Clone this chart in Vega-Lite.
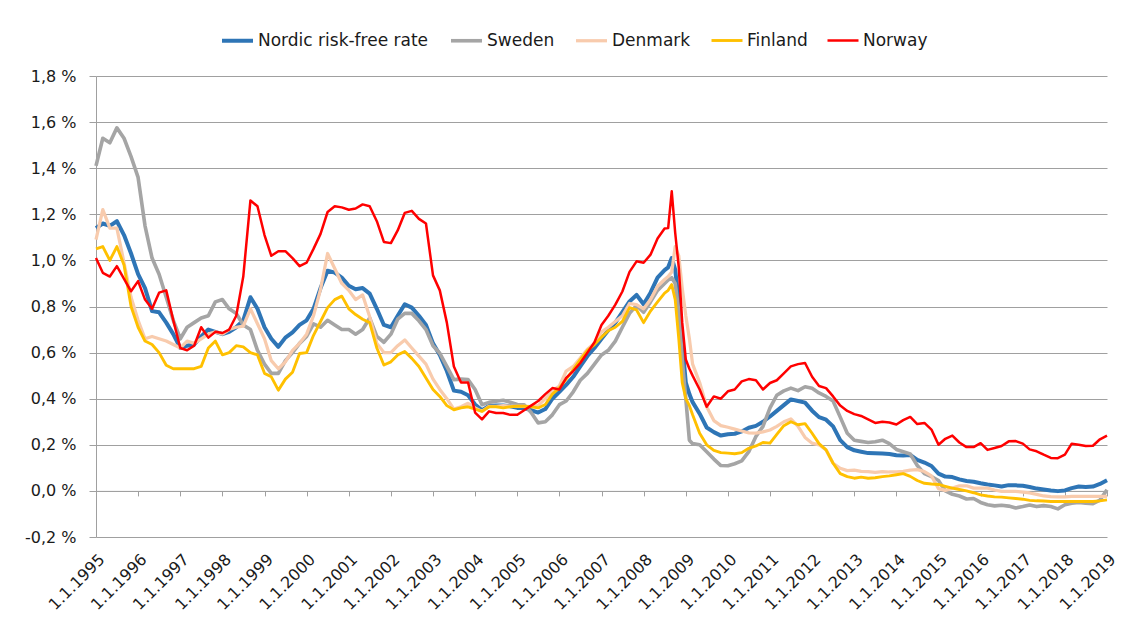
{
"$schema": "https://vega.github.io/schema/vega-lite/v6.json",
"width": 1011, "height": 461,
"autosize": {"type": "none"},
"padding": {"left": 96, "top": 76, "right": 23, "bottom": 85},
"background": "white",
"config": {"font": "DejaVu Sans", "view": {"stroke": null}},
"data": {"values": [
{"date":"1995-01-01","Nordic risk-free rate":1.14,"Sweden":1.41,"Denmark":1.09,"Finland":1.05,"Norway":1.01},
{"date":"1995-03-01","Nordic risk-free rate":1.16,"Sweden":1.53,"Denmark":1.22,"Finland":1.06,"Norway":0.946},
{"date":"1995-05-01","Nordic risk-free rate":1.15,"Sweden":1.51,"Denmark":1.14,"Finland":1.0,"Norway":0.93},
{"date":"1995-07-01","Nordic risk-free rate":1.17,"Sweden":1.575,"Denmark":1.14,"Finland":1.06,"Norway":0.975},
{"date":"1995-09-01","Nordic risk-free rate":1.11,"Sweden":1.53,"Denmark":0.99,"Finland":0.98,"Norway":0.92},
{"date":"1995-11-01","Nordic risk-free rate":1.03,"Sweden":1.45,"Denmark":0.84,"Finland":0.8,"Norway":0.866},
{"date":"1996-01-01","Nordic risk-free rate":0.94,"Sweden":1.36,"Denmark":0.74,"Finland":0.71,"Norway":0.91},
{"date":"1996-03-01","Nordic risk-free rate":0.88,"Sweden":1.15,"Denmark":0.66,"Finland":0.65,"Norway":0.83},
{"date":"1996-05-01","Nordic risk-free rate":0.78,"Sweden":1.01,"Denmark":0.67,"Finland":0.635,"Norway":0.79},
{"date":"1996-07-01","Nordic risk-free rate":0.775,"Sweden":0.94,"Denmark":0.66,"Finland":0.6,"Norway":0.86},
{"date":"1996-09-01","Nordic risk-free rate":0.73,"Sweden":0.84,"Denmark":0.65,"Finland":0.545,"Norway":0.87},
{"date":"1996-11-01","Nordic risk-free rate":0.68,"Sweden":0.74,"Denmark":0.635,"Finland":0.53,"Norway":0.74},
{"date":"1997-01-01","Nordic risk-free rate":0.62,"Sweden":0.66,"Denmark":0.62,"Finland":0.53,"Norway":0.62},
{"date":"1997-03-01","Nordic risk-free rate":0.63,"Sweden":0.71,"Denmark":0.65,"Finland":0.53,"Norway":0.61},
{"date":"1997-05-01","Nordic risk-free rate":0.635,"Sweden":0.73,"Denmark":0.64,"Finland":0.53,"Norway":0.63},
{"date":"1997-07-01","Nordic risk-free rate":0.67,"Sweden":0.75,"Denmark":0.66,"Finland":0.54,"Norway":0.71},
{"date":"1997-09-01","Nordic risk-free rate":0.7,"Sweden":0.76,"Denmark":0.68,"Finland":0.62,"Norway":0.665},
{"date":"1997-11-01","Nordic risk-free rate":0.69,"Sweden":0.82,"Denmark":0.69,"Finland":0.65,"Norway":0.69},
{"date":"1998-01-01","Nordic risk-free rate":0.68,"Sweden":0.83,"Denmark":0.68,"Finland":0.59,"Norway":0.685},
{"date":"1998-03-01","Nordic risk-free rate":0.69,"Sweden":0.79,"Denmark":0.7,"Finland":0.6,"Norway":0.7},
{"date":"1998-05-01","Nordic risk-free rate":0.71,"Sweden":0.77,"Denmark":0.71,"Finland":0.63,"Norway":0.76},
{"date":"1998-07-01","Nordic risk-free rate":0.74,"Sweden":0.72,"Denmark":0.715,"Finland":0.625,"Norway":0.93},
{"date":"1998-09-01","Nordic risk-free rate":0.84,"Sweden":0.7,"Denmark":0.79,"Finland":0.6,"Norway":1.26},
{"date":"1998-11-01","Nordic risk-free rate":0.79,"Sweden":0.61,"Denmark":0.725,"Finland":0.59,"Norway":1.235},
{"date":"1999-01-01","Nordic risk-free rate":0.71,"Sweden":0.55,"Denmark":0.66,"Finland":0.51,"Norway":1.11},
{"date":"1999-03-01","Nordic risk-free rate":0.66,"Sweden":0.51,"Denmark":0.565,"Finland":0.495,"Norway":1.02},
{"date":"1999-05-01","Nordic risk-free rate":0.625,"Sweden":0.51,"Denmark":0.53,"Finland":0.437,"Norway":1.04},
{"date":"1999-07-01","Nordic risk-free rate":0.665,"Sweden":0.565,"Denmark":0.56,"Finland":0.485,"Norway":1.04},
{"date":"1999-09-01","Nordic risk-free rate":0.688,"Sweden":0.6,"Denmark":0.61,"Finland":0.515,"Norway":1.01},
{"date":"1999-11-01","Nordic risk-free rate":0.72,"Sweden":0.64,"Denmark":0.64,"Finland":0.596,"Norway":0.975},
{"date":"2000-01-01","Nordic risk-free rate":0.74,"Sweden":0.67,"Denmark":0.68,"Finland":0.6,"Norway":0.99},
{"date":"2000-03-01","Nordic risk-free rate":0.79,"Sweden":0.725,"Denmark":0.76,"Finland":0.675,"Norway":1.05},
{"date":"2000-05-01","Nordic risk-free rate":0.88,"Sweden":0.71,"Denmark":0.875,"Finland":0.735,"Norway":1.115},
{"date":"2000-07-01","Nordic risk-free rate":0.955,"Sweden":0.74,"Denmark":1.03,"Finland":0.795,"Norway":1.21},
{"date":"2000-09-01","Nordic risk-free rate":0.947,"Sweden":0.72,"Denmark":0.965,"Finland":0.83,"Norway":1.235},
{"date":"2000-11-01","Nordic risk-free rate":0.925,"Sweden":0.7,"Denmark":0.9,"Finland":0.845,"Norway":1.23},
{"date":"2001-01-01","Nordic risk-free rate":0.89,"Sweden":0.7,"Denmark":0.87,"Finland":0.79,"Norway":1.22},
{"date":"2001-03-01","Nordic risk-free rate":0.875,"Sweden":0.68,"Denmark":0.83,"Finland":0.765,"Norway":1.225},
{"date":"2001-05-01","Nordic risk-free rate":0.88,"Sweden":0.7,"Denmark":0.85,"Finland":0.745,"Norway":1.243},
{"date":"2001-07-01","Nordic risk-free rate":0.856,"Sweden":0.75,"Denmark":0.755,"Finland":0.73,"Norway":1.235},
{"date":"2001-09-01","Nordic risk-free rate":0.79,"Sweden":0.67,"Denmark":0.64,"Finland":0.62,"Norway":1.17},
{"date":"2001-11-01","Nordic risk-free rate":0.72,"Sweden":0.645,"Denmark":0.6,"Finland":0.546,"Norway":1.08},
{"date":"2002-01-01","Nordic risk-free rate":0.71,"Sweden":0.68,"Denmark":0.6,"Finland":0.56,"Norway":1.075},
{"date":"2002-03-01","Nordic risk-free rate":0.76,"Sweden":0.745,"Denmark":0.63,"Finland":0.59,"Norway":1.13},
{"date":"2002-05-01","Nordic risk-free rate":0.81,"Sweden":0.77,"Denmark":0.655,"Finland":0.605,"Norway":1.206},
{"date":"2002-07-01","Nordic risk-free rate":0.795,"Sweden":0.77,"Denmark":0.62,"Finland":0.575,"Norway":1.215},
{"date":"2002-09-01","Nordic risk-free rate":0.76,"Sweden":0.738,"Denmark":0.585,"Finland":0.54,"Norway":1.18},
{"date":"2002-11-01","Nordic risk-free rate":0.72,"Sweden":0.7,"Denmark":0.55,"Finland":0.49,"Norway":1.16},
{"date":"2003-01-01","Nordic risk-free rate":0.64,"Sweden":0.63,"Denmark":0.485,"Finland":0.44,"Norway":0.935},
{"date":"2003-03-01","Nordic risk-free rate":0.59,"Sweden":0.597,"Denmark":0.44,"Finland":0.41,"Norway":0.87},
{"date":"2003-05-01","Nordic risk-free rate":0.52,"Sweden":0.54,"Denmark":0.4,"Finland":0.37,"Norway":0.73},
{"date":"2003-07-01","Nordic risk-free rate":0.435,"Sweden":0.483,"Denmark":0.355,"Finland":0.352,"Norway":0.54},
{"date":"2003-09-01","Nordic risk-free rate":0.43,"Sweden":0.485,"Denmark":0.365,"Finland":0.36,"Norway":0.47},
{"date":"2003-11-01","Nordic risk-free rate":0.415,"Sweden":0.483,"Denmark":0.38,"Finland":0.365,"Norway":0.47},
{"date":"2004-01-01","Nordic risk-free rate":0.375,"Sweden":0.44,"Denmark":0.36,"Finland":0.355,"Norway":0.34},
{"date":"2004-03-01","Nordic risk-free rate":0.35,"Sweden":0.374,"Denmark":0.345,"Finland":0.345,"Norway":0.31},
{"date":"2004-05-01","Nordic risk-free rate":0.368,"Sweden":0.384,"Denmark":0.367,"Finland":0.365,"Norway":0.345},
{"date":"2004-07-01","Nordic risk-free rate":0.37,"Sweden":0.389,"Denmark":0.367,"Finland":0.365,"Norway":0.338},
{"date":"2004-09-01","Nordic risk-free rate":0.37,"Sweden":0.393,"Denmark":0.37,"Finland":0.36,"Norway":0.338},
{"date":"2004-11-01","Nordic risk-free rate":0.367,"Sweden":0.385,"Denmark":0.368,"Finland":0.365,"Norway":0.33},
{"date":"2005-01-01","Nordic risk-free rate":0.36,"Sweden":0.375,"Denmark":0.367,"Finland":0.367,"Norway":0.33},
{"date":"2005-03-01","Nordic risk-free rate":0.36,"Sweden":0.374,"Denmark":0.367,"Finland":0.367,"Norway":0.35},
{"date":"2005-05-01","Nordic risk-free rate":0.35,"Sweden":0.34,"Denmark":0.367,"Finland":0.365,"Norway":0.37},
{"date":"2005-07-01","Nordic risk-free rate":0.34,"Sweden":0.295,"Denmark":0.37,"Finland":0.36,"Norway":0.39},
{"date":"2005-09-01","Nordic risk-free rate":0.355,"Sweden":0.3,"Denmark":0.4,"Finland":0.375,"Norway":0.42},
{"date":"2005-11-01","Nordic risk-free rate":0.4,"Sweden":0.33,"Denmark":0.435,"Finland":0.42,"Norway":0.446},
{"date":"2006-01-01","Nordic risk-free rate":0.43,"Sweden":0.374,"Denmark":0.455,"Finland":0.447,"Norway":0.44},
{"date":"2006-03-01","Nordic risk-free rate":0.46,"Sweden":0.39,"Denmark":0.52,"Finland":0.485,"Norway":0.49},
{"date":"2006-05-01","Nordic risk-free rate":0.495,"Sweden":0.43,"Denmark":0.54,"Finland":0.526,"Norway":0.52},
{"date":"2006-07-01","Nordic risk-free rate":0.54,"Sweden":0.48,"Denmark":0.576,"Finland":0.57,"Norway":0.555},
{"date":"2006-09-01","Nordic risk-free rate":0.585,"Sweden":0.51,"Denmark":0.615,"Finland":0.61,"Norway":0.6},
{"date":"2006-11-01","Nordic risk-free rate":0.62,"Sweden":0.55,"Denmark":0.64,"Finland":0.635,"Norway":0.645},
{"date":"2007-01-01","Nordic risk-free rate":0.66,"Sweden":0.59,"Denmark":0.69,"Finland":0.667,"Norway":0.72},
{"date":"2007-03-01","Nordic risk-free rate":0.697,"Sweden":0.61,"Denmark":0.71,"Finland":0.695,"Norway":0.76},
{"date":"2007-05-01","Nordic risk-free rate":0.73,"Sweden":0.65,"Denmark":0.735,"Finland":0.71,"Norway":0.808},
{"date":"2007-07-01","Nordic risk-free rate":0.776,"Sweden":0.71,"Denmark":0.76,"Finland":0.735,"Norway":0.865},
{"date":"2007-09-01","Nordic risk-free rate":0.822,"Sweden":0.77,"Denmark":0.813,"Finland":0.795,"Norway":0.95},
{"date":"2007-11-01","Nordic risk-free rate":0.85,"Sweden":0.805,"Denmark":0.808,"Finland":0.785,"Norway":0.996},
{"date":"2008-01-01","Nordic risk-free rate":0.81,"Sweden":0.775,"Denmark":0.79,"Finland":0.73,"Norway":0.99},
{"date":"2008-03-01","Nordic risk-free rate":0.86,"Sweden":0.82,"Denmark":0.83,"Finland":0.78,"Norway":1.025},
{"date":"2008-05-01","Nordic risk-free rate":0.925,"Sweden":0.87,"Denmark":0.888,"Finland":0.82,"Norway":1.095},
{"date":"2008-07-01","Nordic risk-free rate":0.958,"Sweden":0.9,"Denmark":0.917,"Finland":0.858,"Norway":1.138},
{"date":"2008-08-01","Nordic risk-free rate":0.97,"Sweden":0.915,"Denmark":0.93,"Finland":0.87,"Norway":1.14},
{"date":"2008-09-01","Nordic risk-free rate":1.01,"Sweden":0.925,"Denmark":0.95,"Finland":0.895,"Norway":1.3},
{"date":"2008-10-01","Nordic risk-free rate":0.96,"Sweden":0.9,"Denmark":1.06,"Finland":0.83,"Norway":1.12},
{"date":"2008-11-01","Nordic risk-free rate":0.82,"Sweden":0.78,"Denmark":1.02,"Finland":0.66,"Norway":0.97},
{"date":"2008-12-01","Nordic risk-free rate":0.64,"Sweden":0.57,"Denmark":0.88,"Finland":0.47,"Norway":0.73},
{"date":"2009-01-01","Nordic risk-free rate":0.47,"Sweden":0.4,"Denmark":0.76,"Finland":0.4,"Norway":0.57},
{"date":"2009-02-01","Nordic risk-free rate":0.42,"Sweden":0.22,"Denmark":0.66,"Finland":0.37,"Norway":0.53},
{"date":"2009-03-01","Nordic risk-free rate":0.385,"Sweden":0.205,"Denmark":0.55,"Finland":0.33,"Norway":0.5},
{"date":"2009-05-01","Nordic risk-free rate":0.335,"Sweden":0.2,"Denmark":0.47,"Finland":0.25,"Norway":0.44},
{"date":"2009-07-01","Nordic risk-free rate":0.275,"Sweden":0.17,"Denmark":0.365,"Finland":0.2,"Norway":0.365},
{"date":"2009-09-01","Nordic risk-free rate":0.255,"Sweden":0.138,"Denmark":0.305,"Finland":0.176,"Norway":0.41},
{"date":"2009-11-01","Nordic risk-free rate":0.24,"Sweden":0.11,"Denmark":0.283,"Finland":0.166,"Norway":0.4},
{"date":"2010-01-01","Nordic risk-free rate":0.246,"Sweden":0.109,"Denmark":0.276,"Finland":0.164,"Norway":0.432},
{"date":"2010-03-01","Nordic risk-free rate":0.248,"Sweden":0.118,"Denmark":0.268,"Finland":0.161,"Norway":0.44},
{"date":"2010-05-01","Nordic risk-free rate":0.258,"Sweden":0.13,"Denmark":0.26,"Finland":0.166,"Norway":0.475},
{"date":"2010-07-01","Nordic risk-free rate":0.274,"Sweden":0.17,"Denmark":0.252,"Finland":0.185,"Norway":0.485},
{"date":"2010-09-01","Nordic risk-free rate":0.282,"Sweden":0.236,"Denmark":0.251,"Finland":0.195,"Norway":0.48},
{"date":"2010-11-01","Nordic risk-free rate":0.3,"Sweden":0.28,"Denmark":0.256,"Finland":0.21,"Norway":0.44},
{"date":"2011-01-01","Nordic risk-free rate":0.323,"Sweden":0.36,"Denmark":0.264,"Finland":0.207,"Norway":0.468},
{"date":"2011-03-01","Nordic risk-free rate":0.347,"Sweden":0.415,"Denmark":0.28,"Finland":0.245,"Norway":0.48},
{"date":"2011-05-01","Nordic risk-free rate":0.372,"Sweden":0.434,"Denmark":0.3,"Finland":0.283,"Norway":0.51},
{"date":"2011-07-01","Nordic risk-free rate":0.397,"Sweden":0.446,"Denmark":0.312,"Finland":0.3,"Norway":0.54},
{"date":"2011-09-01","Nordic risk-free rate":0.39,"Sweden":0.435,"Denmark":0.28,"Finland":0.287,"Norway":0.55},
{"date":"2011-11-01","Nordic risk-free rate":0.383,"Sweden":0.452,"Denmark":0.232,"Finland":0.292,"Norway":0.555},
{"date":"2012-01-01","Nordic risk-free rate":0.348,"Sweden":0.445,"Denmark":0.207,"Finland":0.25,"Norway":0.495},
{"date":"2012-03-01","Nordic risk-free rate":0.32,"Sweden":0.425,"Denmark":0.2,"Finland":0.205,"Norway":0.455},
{"date":"2012-05-01","Nordic risk-free rate":0.309,"Sweden":0.41,"Denmark":0.178,"Finland":0.178,"Norway":0.446},
{"date":"2012-07-01","Nordic risk-free rate":0.28,"Sweden":0.39,"Denmark":0.12,"Finland":0.12,"Norway":0.41},
{"date":"2012-09-01","Nordic risk-free rate":0.22,"Sweden":0.32,"Denmark":0.098,"Finland":0.075,"Norway":0.37},
{"date":"2012-11-01","Nordic risk-free rate":0.19,"Sweden":0.25,"Denmark":0.088,"Finland":0.062,"Norway":0.347},
{"date":"2013-01-01","Nordic risk-free rate":0.176,"Sweden":0.22,"Denmark":0.09,"Finland":0.055,"Norway":0.333},
{"date":"2013-03-01","Nordic risk-free rate":0.17,"Sweden":0.215,"Denmark":0.085,"Finland":0.06,"Norway":0.325},
{"date":"2013-05-01","Nordic risk-free rate":0.164,"Sweden":0.21,"Denmark":0.084,"Finland":0.055,"Norway":0.31},
{"date":"2013-07-01","Nordic risk-free rate":0.163,"Sweden":0.213,"Denmark":0.08,"Finland":0.057,"Norway":0.295},
{"date":"2013-09-01","Nordic risk-free rate":0.162,"Sweden":0.22,"Denmark":0.084,"Finland":0.062,"Norway":0.3},
{"date":"2013-11-01","Nordic risk-free rate":0.16,"Sweden":0.205,"Denmark":0.082,"Finland":0.065,"Norway":0.297},
{"date":"2014-01-01","Nordic risk-free rate":0.155,"Sweden":0.18,"Denmark":0.083,"Finland":0.07,"Norway":0.288},
{"date":"2014-03-01","Nordic risk-free rate":0.154,"Sweden":0.17,"Denmark":0.085,"Finland":0.075,"Norway":0.307},
{"date":"2014-05-01","Nordic risk-free rate":0.156,"Sweden":0.16,"Denmark":0.09,"Finland":0.063,"Norway":0.321},
{"date":"2014-07-01","Nordic risk-free rate":0.135,"Sweden":0.11,"Denmark":0.092,"Finland":0.045,"Norway":0.29},
{"date":"2014-09-01","Nordic risk-free rate":0.123,"Sweden":0.075,"Denmark":0.084,"Finland":0.033,"Norway":0.295},
{"date":"2014-11-01","Nordic risk-free rate":0.108,"Sweden":0.062,"Denmark":0.065,"Finland":0.03,"Norway":0.266},
{"date":"2015-01-01","Nordic risk-free rate":0.075,"Sweden":0.045,"Denmark":0.01,"Finland":0.028,"Norway":0.2},
{"date":"2015-03-01","Nordic risk-free rate":0.062,"Sweden":0.0,"Denmark":0.002,"Finland":0.02,"Norway":0.226},
{"date":"2015-05-01","Nordic risk-free rate":0.06,"Sweden":-0.015,"Denmark":0.012,"Finland":0.012,"Norway":0.24},
{"date":"2015-07-01","Nordic risk-free rate":0.05,"Sweden":-0.022,"Denmark":0.022,"Finland":0.006,"Norway":0.21},
{"date":"2015-09-01","Nordic risk-free rate":0.043,"Sweden":-0.035,"Denmark":0.022,"Finland":0.0,"Norway":0.19},
{"date":"2015-11-01","Nordic risk-free rate":0.04,"Sweden":-0.033,"Denmark":0.012,"Finland":-0.008,"Norway":0.19},
{"date":"2016-01-01","Nordic risk-free rate":0.033,"Sweden":-0.05,"Denmark":0.012,"Finland":-0.017,"Norway":0.207},
{"date":"2016-03-01","Nordic risk-free rate":0.028,"Sweden":-0.06,"Denmark":0.012,"Finland":-0.022,"Norway":0.178},
{"date":"2016-05-01","Nordic risk-free rate":0.024,"Sweden":-0.065,"Denmark":0.004,"Finland":-0.026,"Norway":0.186},
{"date":"2016-07-01","Nordic risk-free rate":0.019,"Sweden":-0.062,"Denmark":-0.002,"Finland":-0.027,"Norway":0.195},
{"date":"2016-09-01","Nordic risk-free rate":0.025,"Sweden":-0.066,"Denmark":-0.002,"Finland":-0.03,"Norway":0.215},
{"date":"2016-11-01","Nordic risk-free rate":0.024,"Sweden":-0.074,"Denmark":-0.002,"Finland":-0.033,"Norway":0.216},
{"date":"2017-01-01","Nordic risk-free rate":0.022,"Sweden":-0.068,"Denmark":-0.005,"Finland":-0.036,"Norway":0.205},
{"date":"2017-03-01","Nordic risk-free rate":0.017,"Sweden":-0.061,"Denmark":-0.009,"Finland":-0.041,"Norway":0.18},
{"date":"2017-05-01","Nordic risk-free rate":0.01,"Sweden":-0.068,"Denmark":-0.015,"Finland":-0.043,"Norway":0.172},
{"date":"2017-07-01","Nordic risk-free rate":0.006,"Sweden":-0.064,"Denmark":-0.022,"Finland":-0.044,"Norway":0.157},
{"date":"2017-09-01","Nordic risk-free rate":0.002,"Sweden":-0.068,"Denmark":-0.025,"Finland":-0.046,"Norway":0.143},
{"date":"2017-11-01","Nordic risk-free rate":-0.001,"Sweden":-0.078,"Denmark":-0.026,"Finland":-0.046,"Norway":0.142},
{"date":"2018-01-01","Nordic risk-free rate":0.002,"Sweden":-0.06,"Denmark":-0.026,"Finland":-0.046,"Norway":0.157},
{"date":"2018-03-01","Nordic risk-free rate":0.012,"Sweden":-0.053,"Denmark":-0.024,"Finland":-0.046,"Norway":0.205},
{"date":"2018-05-01","Nordic risk-free rate":0.019,"Sweden":-0.05,"Denmark":-0.024,"Finland":-0.046,"Norway":0.2},
{"date":"2018-07-01","Nordic risk-free rate":0.017,"Sweden":-0.053,"Denmark":-0.024,"Finland":-0.046,"Norway":0.195},
{"date":"2018-09-01","Nordic risk-free rate":0.019,"Sweden":-0.055,"Denmark":-0.024,"Finland":-0.046,"Norway":0.196},
{"date":"2018-11-01","Nordic risk-free rate":0.03,"Sweden":-0.04,"Denmark":-0.024,"Finland":-0.043,"Norway":0.224},
{"date":"2019-01-01","Nordic risk-free rate":0.046,"Sweden":0.005,"Denmark":-0.024,"Finland":-0.039,"Norway":0.24}
]},
"transform": [{"fold": ["Nordic risk-free rate", "Sweden", "Denmark", "Finland", "Norway"], "as": ["series", "value"]}],
"mark": {"type": "line", "strokeJoin": "round", "strokeCap": "butt"},
"encoding": {
  "x": {"field": "date", "type": "temporal",
    "scale": {"type": "utc", "nice": false, "domain": [{"year": 1995, "month": 1, "date": 1, "utc": true}, {"year": 2019, "month": 1, "date": 1, "utc": true}]},
    "axis": {"title": null, "offset": -46.1, "grid": false, "domainColor": "#a0a0a0", "tickColor": "#a0a0a0", "tickSize": 5,
      "tickCount": {"interval": "year", "step": 1},
      "labelExpr": "utcFormat(datum.value, '%-d.%-m.%Y')",
      "labelAngle": -45, "labelPadding": 55, "labelFontSize": 16, "labelColor": "#1a1a1a", "labelOverlap": false, "labelFlush": false, "labelBound": false}},
  "y": {"field": "value", "type": "quantitative",
    "scale": {"domain": [-0.2, 1.8], "nice": false, "zero": false},
    "axis": {"title": null, "values": [-0.2, 0, 0.2, 0.4, 0.6, 0.8, 1.0, 1.2, 1.4, 1.6, 1.8],
      "labelExpr": "replace(replace(format(datum.value, '.1f'), '.', ','), '\u2212', '-') + ' %'",
      "grid": true, "gridColor": "#a0a0a0", "domainColor": "#a0a0a0", "tickColor": "#a0a0a0", "tickSize": 7,
      "labelPadding": 13, "labelFontSize": 16, "labelColor": "#1a1a1a"}},
  "color": {"field": "series", "type": "nominal",
    "scale": {"domain": ["Nordic risk-free rate", "Sweden", "Denmark", "Finland", "Norway"], "range": ["#2e75b6", "#a5a5a5", "#f8cbad", "#ffc000", "#ff0000"]},
    "legend": {"title": null, "orient": "none", "legendX": 124, "legendY": -53, "direction": "horizontal", "symbolType": "stroke", "symbolSize": 961, "labelFontSize": 17, "labelColor": "#1a1a1a", "labelOffset": 3, "columnPadding": 14, "labelLimit": 300,
      "encode": {"symbols": {"update": {"strokeWidth": {"scale": "strokeWidth", "field": "value"}}}}}},
  "strokeWidth": {"field": "series", "type": "nominal",
    "scale": {"domain": ["Nordic risk-free rate", "Sweden", "Denmark", "Finland", "Norway"], "range": [4, 2.5, 2.5, 2.5, 1.5]},
    "legend": null}
}
}
